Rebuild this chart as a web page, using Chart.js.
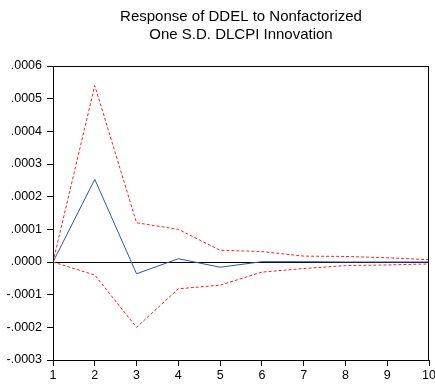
<!DOCTYPE html>
<html><head><meta charset="utf-8">
<script src="https://cdn.jsdelivr.net/npm/chart.js@4/dist/chart.umd.min.js"></script>
<style>html,body{margin:0;padding:0;background:#fff}#wrap{width:435px;height:385px}</style>
</head><body><div id="wrap"><canvas id="c" width="435" height="385"></canvas></div>
<script>
const periods = [1,2,3,4,5,6,7,8,9,10];
const response = [0, 0.000253, -0.000036, 0.000010, -0.000016, 0.000001, 0.000001, 0, 0, 0];
const upperBand = [0, 0.00054, 0.00012, 0.000100, 0.000036, 0.000032, 0.000018, 0.000017, 0.000013, 0.000007];
const lowerBand = [0, -0.00004, -0.0002, -0.000082, -0.000071, -0.000031, -0.00002, -0.000011, -0.000009, -0.000006];
const yTickValues = [-0.0003,-0.0002,-0.0001,0,0.0001,0.0002,0.0003,0.0004,0.0005,0.0006];
const titleLines = ['Response of DDEL to Nonfactorized','One S.D. DLCPI Innovation'];

function fmt(v){
  const r = Math.round(v*10000);
  const s = (Math.abs(r)/10000).toFixed(4).replace(/^0/,'');
  return (r<0?'-':'')+s;
}
const pts = arr => arr.map((v,i)=>({x:periods[i], y:v}));
const tickFont = {family:"'Liberation Sans', Arial, sans-serif", size:12.5};

const frame = {
  id:'frame',
  afterLayout(chart){
    const a = chart.chartArea;
    if (chart.titleBlock){ chart.titleBlock.left = a.left; chart.titleBlock.right = a.right; chart.titleBlock.width = a.right-a.left; }
  },
  afterDatasetsDraw(chart){
    const {ctx, chartArea:a} = chart;
    ctx.save();
    ctx.strokeStyle = '#000'; ctx.lineWidth = 1;
    ctx.strokeRect(a.left+0.5, a.top+0.5, a.right-a.left-1, a.bottom-a.top);
    ctx.restore();
  }
};

new Chart(document.getElementById('c'), {
  type:'line',
  data:{ datasets:[
    {data:pts(upperBand), borderColor:'#ff2020', borderWidth:1, borderDash:[3,2], pointRadius:0, tension:0, fill:false},
    {data:pts(lowerBand), borderColor:'#ff2020', borderWidth:1, borderDash:[3,2], pointRadius:0, tension:0, fill:false},
    {data:pts(response), borderColor:'#2f55b0', borderWidth:1, pointRadius:0, tension:0, fill:false}
  ]},
  options:{
    responsive:false, animation:false,
    layout:{padding:{left:0,right:6,top:0,bottom:0}},
    plugins:{
      legend:{display:false}, tooltip:{enabled:false},
      title:{display:true, text:titleLines, color:'#000', font:{family:"'Liberation Sans', Arial, sans-serif", size:15, weight:'normal', lineHeight:'18px'}, padding:{top:8,bottom:22}}
    },
    scales:{
      x:{type:'linear', min:1, max:10,
        afterFit(s){ s.height = 25; s.paddingRight = 0; s.paddingLeft = 0; },
        ticks:{stepSize:1, color:'#000', font:tickFont, padding:2, maxRotation:0, autoSkip:false},
        grid:{drawOnChartArea:false, tickLength:6, color:'#000'},
        border:{color:'#000', width:1}},
      y:{type:'linear', min:-0.0003, max:0.0006,
        afterBuildTicks(s){ s.ticks = yTickValues.map(v=>({value:v})); },
        afterFit(s){ s.width = 53; s.paddingTop = 0; s.paddingBottom = 0; },
        ticks:{color:'#000', font:tickFont, padding:5, callback:v=>fmt(v)},
        grid:{drawOnChartArea:true, tickLength:6, color:c=> (c.tick && Math.abs(c.tick.value)<1e-12) ? '#000' : 'rgba(0,0,0,0)', drawTicks:true,
          tickColor:'#000'},
        border:{color:'#000', width:1}}
    }
  },
  plugins:[frame]
});
</script></body></html>
